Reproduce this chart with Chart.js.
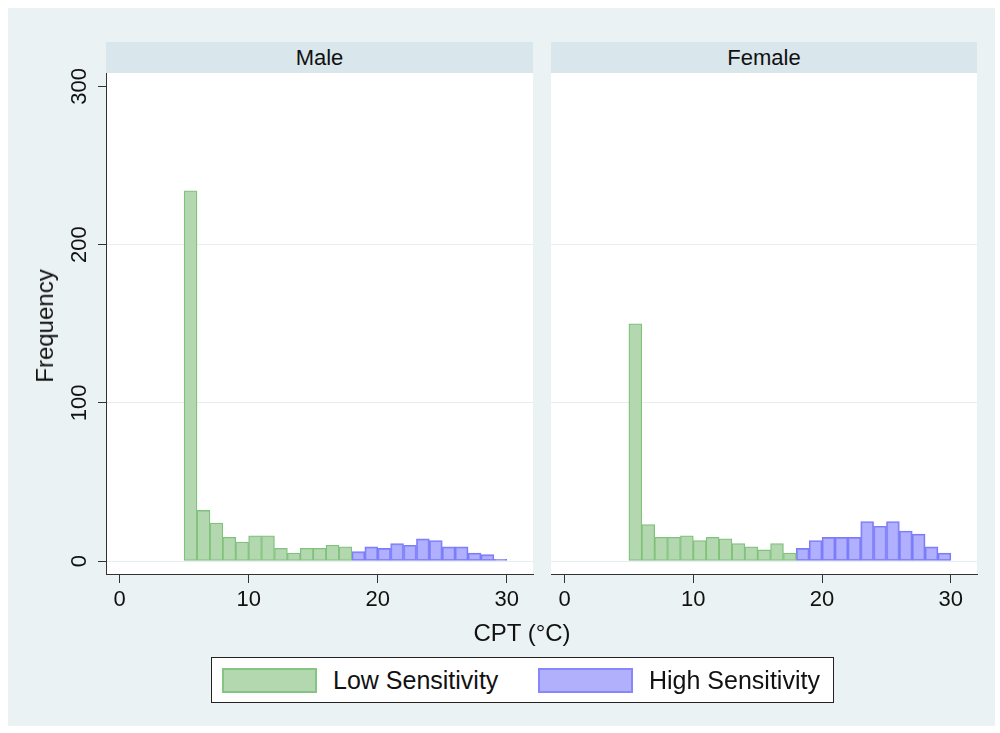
<!DOCTYPE html>
<html>
<head>
<meta charset="utf-8">
<script src="https://cdn.jsdelivr.net/npm/chart.js"></script>
<style>
  body { margin: 0; background: #fff; font-family: 'Liberation Sans', Arial, sans-serif; }
  .abs { position: absolute; }
  .hdr { position: absolute; background: #d9e6eb; color: #111; font-size: 22px; text-align: center; line-height: 31px; height: 31px; }
  .ttl { position: absolute; color: #111; font-size: 24px; line-height: 1; white-space: nowrap; }
  .sw { position: absolute; box-sizing: border-box; width: 95px; height: 25px; border-width: 2px; border-style: solid; }
  .lt { position: absolute; font-size: 25px; line-height: 1; transform: translateY(-50%); color: #111; white-space: nowrap; }
</style>
</head>
<body>
<div class="abs" style="left:8px;top:8px;width:987px;height:718px;background:#eaf2f3"></div>

<div class="hdr" style="left:106px;top:42px;width:427px">Male</div>
<div class="hdr" style="left:551px;top:42px;width:426px">Female</div>

<div class="abs" style="left:20px;top:53px;width:520px;height:567px"><canvas id="male"></canvas></div>
<div class="abs" style="left:540px;top:53px;width:445px;height:567px"><canvas id="female"></canvas></div>

<div class="ttl" style="left:45px;top:326px;transform:translate(-50%,-50%) rotate(-90deg)">Frequency</div>
<div class="ttl" style="left:522px;top:633px;transform:translate(-50%,-50%)">CPT (°C)</div>

<div class="abs" style="left:211px;top:657px;width:623px;height:46px;box-sizing:border-box;background:#fff;border:1px solid #222">
  <div class="sw" style="left:10px;top:10px;background:#b3d8b0;border-color:#86c483"></div>
  <div class="lt" style="left:121px;top:22px">Low Sensitivity</div>
  <div class="sw" style="left:326px;top:10px;background:#b0b0fd;border-color:#8787fb"></div>
  <div class="lt" style="left:437px;top:22px">High Sensitivity</div>
</div>

<script>
// bin centres, one-degree bins from 5 to 31
const binMids = [5.5, 6.5, 7.5, 8.5, 9.5, 10.5, 11.5, 12.5, 13.5, 14.5, 15.5, 16.5, 17.5,
                 18.5, 19.5, 20.5, 21.5, 22.5, 23.5, 24.5, 25.5, 26.5, 27.5, 28.5, 29.5, 30.5];

const maleLow    = [234, 32, 24, 15, 12, 16, 16, 8, 5, 8, 8, 10, 9,
                    null, null, null, null, null, null, null, null, null, null, null, null, null];
const maleHigh   = [null, null, null, null, null, null, null, null, null, null, null, null, 0,
                    6, 9, 8, 11, 10, 14, 13, 9, 9, 5, 4, 1, null];
const femaleLow  = [150, 23, 15, 15, 16, 13, 15, 14, 11, 9, 7, 11, 5,
                    null, null, null, null, null, null, null, null, null, null, null, null, null];
const femaleHigh = [null, null, null, null, null, null, null, null, null, null, null, null, null,
                    8, 13, 15, 15, 15, 25, 22, 25, 19, 17, 9, 5, 0];

const xTicks = [0, 10, 20, 30];
const yTicks = [0, 100, 200, 300];

const FONT = "'Liberation Sans', Arial, sans-serif";

// white plot region like the Stata plotregion
const whiteArea = {
    id: 'whiteArea',
    beforeDraw(chart) {
        const a = chart.chartArea;
        const ctx = chart.ctx;
        ctx.save();
        ctx.fillStyle = '#fff';
        ctx.fillRect(a.left, a.top, a.right - a.left, a.bottom - a.top);
        ctx.restore();
    }
};

function points(vals) {
    return binMids.map((x, i) => ({ x: x, y: vals[i] })).filter(p => p.y !== null);
}

function makeChart(id, low, high, showY) {
    new Chart(document.getElementById(id), {
        type: 'bar',
        data: {
            datasets: [{
                label: 'Low Sensitivity',
                data: points(low),
                backgroundColor: '#b3d8b0',
                borderColor: '#80c27c',
                borderWidth: 1.3,
                borderSkipped: false
            }, {
                label: 'High Sensitivity',
                data: points(high),
                backgroundColor: 'rgba(150,150,253,0.75)',
                borderColor: '#7c7cfa',
                borderWidth: 1.3,
                borderSkipped: false
            }]
        },
        options: {
            responsive: true,
            maintainAspectRatio: false,
            animation: false,
            layout: { padding: { top: 20, right: showY ? 7 : 8 } },
            datasets: { bar: { barPercentage: 1, categoryPercentage: 1, grouped: false } },
            plugins: { legend: { display: false }, tooltip: { enabled: false } },
            scales: {
                x: {
                    type: 'linear',
                    min: -1.05,
                    max: 32.03,
                    offset: false,
                    afterBuildTicks: s => { s.ticks = xTicks.map(v => ({ value: v })); },
                    afterFit: s => { s.height = 46; s.paddingLeft = 0; s.paddingRight = 0; },
                    grid: { offset: false, drawOnChartArea: false, tickLength: 9, tickColor: '#333' },
                    border: { color: '#333', width: 1 },
                    ticks: { font: { family: FONT, size: 22 }, color: '#111', padding: 4, maxRotation: 0 }
                },
                y: {
                    min: -8.2,
                    max: 308.5,
                    afterBuildTicks: s => { s.ticks = yTicks.map(v => ({ value: v })); },
                    afterFit: s => { s.width = showY ? 86 : 11; s.paddingTop = 0; s.paddingBottom = 0; },
                    grid: {
                        color: c => (c.tick && c.tick.value === 300) ? 'rgba(0,0,0,0)' : '#e6eef1',
                        tickColor: '#333',
                        tickLength: showY ? 8 : 0,
                        drawTicks: showY
                    },
                    border: { display: showY, color: '#333', width: 1 },
                    ticks: {
                        display: showY,
                        minRotation: 90,
                        maxRotation: 90,
                        crossAlign: 'center',
                        padding: 0,
                        font: { family: FONT, size: 22 },
                        color: '#111'
                    }
                }
            }
        },
        plugins: [whiteArea]
    });
}

makeChart('male', maleLow, maleHigh, true);
makeChart('female', femaleLow, femaleHigh, false);
</script>
</body>
</html>
